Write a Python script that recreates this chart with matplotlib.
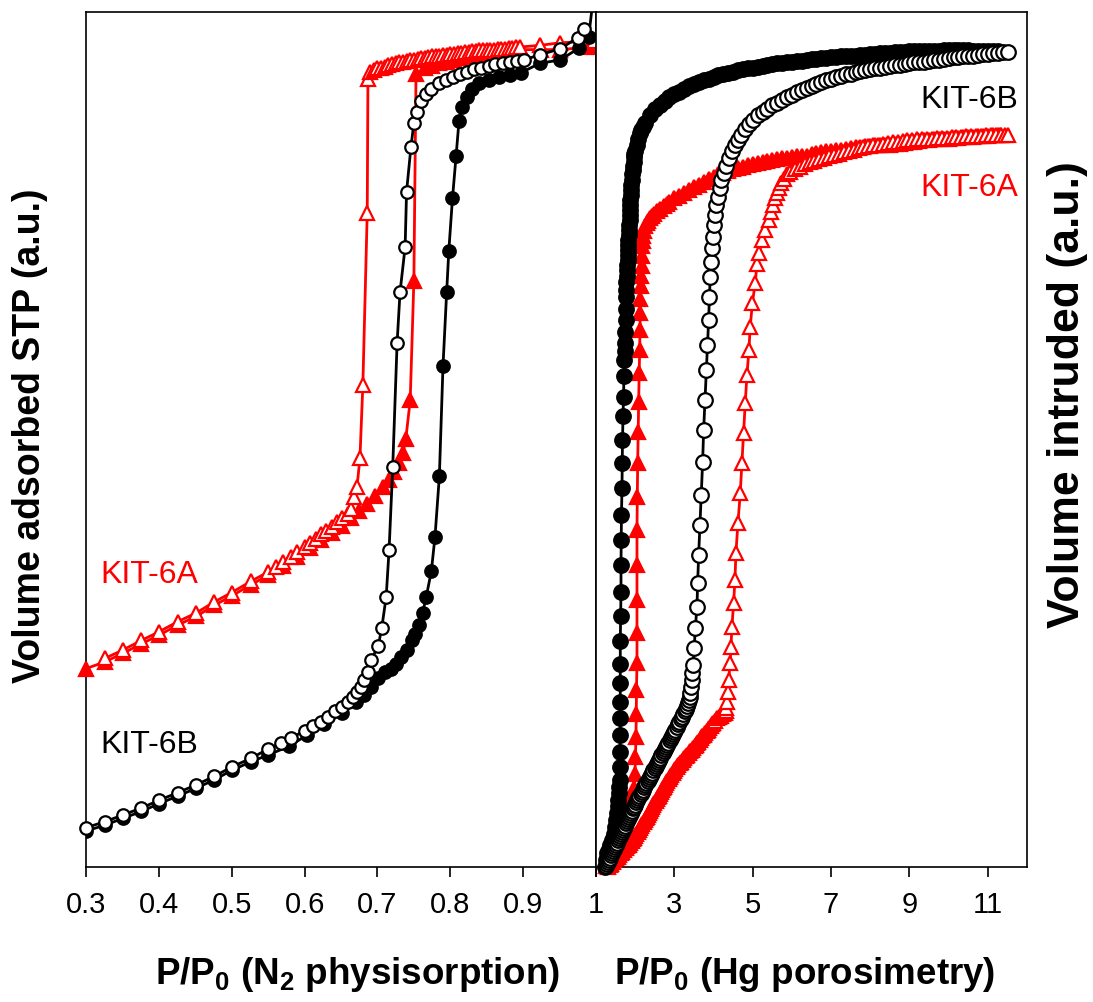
import matplotlib
matplotlib.use('Agg')
import matplotlib.pyplot as plt

plt.rcParams['font.family'] = ['Liberation Sans', 'DejaVu Sans']
plt.rcParams['mathtext.fontset'] = 'custom'
plt.rcParams['mathtext.rm'] = 'Liberation Sans'
plt.rcParams['mathtext.bf'] = 'Liberation Sans:bold'

# ---- N2 physisorption (left panel) ----
# KIT-6B adsorption (filled circles)
b_ads_p = [0.300, 0.326, 0.351, 0.376, 0.400, 0.426, 0.451, 0.476, 0.500, 0.526,
           0.550, 0.578, 0.603, 0.627, 0.651, 0.671, 0.681, 0.691, 0.701, 0.710,
           0.718, 0.725, 0.732, 0.740, 0.747, 0.752, 0.757, 0.762, 0.767, 0.774,
           0.779, 0.785, 0.790, 0.795, 0.798, 0.803, 0.808, 0.812, 0.816, 0.823,
           0.830, 0.840, 0.853, 0.867, 0.882, 0.897, 0.923, 0.951, 0.977, 0.990,
           0.998]
b_ads_v = [4.2, 4.9, 5.7, 6.5, 7.4, 8.3, 9.2, 10.2, 11.3, 12.3,
           13.1, 14.1, 15.4, 16.7, 18.0, 19.3, 20.1, 21.1, 22.1, 22.8,
           23.2, 23.8, 24.6, 25.4, 26.5, 27.3, 28.3, 29.7, 31.6, 34.6,
           38.6, 45.7, 58.6, 67.2, 72.1, 78.2, 83.2, 87.3, 88.9, 90.1,
           91.0, 91.7, 92.0, 92.4, 92.6, 92.9, 94.0, 94.4, 95.8, 97.1,
           103.0]
# KIT-6B desorption (open circles)
b_des_p = [0.300, 0.326, 0.351, 0.376, 0.400, 0.426, 0.451, 0.476, 0.500, 0.526,
           0.550, 0.568, 0.581, 0.600, 0.612, 0.622, 0.632, 0.642, 0.651, 0.659,
           0.666, 0.672, 0.677, 0.682, 0.687, 0.691, 0.701, 0.706, 0.712, 0.716,
           0.721, 0.727, 0.731, 0.738, 0.740, 0.746, 0.750, 0.754, 0.760, 0.767,
           0.774, 0.784, 0.794, 0.804, 0.813, 0.823, 0.833, 0.842, 0.853, 0.862,
           0.872, 0.882, 0.892, 0.901, 0.923, 0.951, 0.975, 0.984]
b_des_v = [4.6, 5.3, 6.1, 6.9, 7.8, 8.7, 9.6, 10.6, 11.7, 12.7,
           13.8, 14.5, 15.1, 15.9, 16.5, 17.0, 17.6, 18.2, 18.7, 19.3,
           19.9, 20.5, 21.1, 21.9, 22.8, 24.2, 25.8, 28.0, 31.6, 37.1,
           46.8, 61.3, 67.2, 72.5, 79.0, 84.2, 87.0, 88.3, 89.6, 90.4,
           91.0, 91.7, 92.0, 92.4, 92.7, 93.0, 93.3, 93.4, 93.7, 93.9,
           94.0, 94.2, 94.3, 94.4, 95.0, 95.7, 97.0, 98.0]
# KIT-6A adsorption (filled triangles)
a_ads_p = [0.300, 0.326, 0.351, 0.376, 0.400, 0.426, 0.451, 0.476, 0.500, 0.526,
           0.550, 0.571, 0.590, 0.607, 0.622, 0.637, 0.651, 0.664, 0.675, 0.686,
           0.697, 0.707, 0.716, 0.723, 0.729, 0.735, 0.739, 0.745, 0.750, 0.753,
           0.765, 0.775, 0.785, 0.795, 0.805, 0.815, 0.825, 0.835, 0.845, 0.855,
           0.865, 0.875, 0.885, 0.895, 0.925, 0.951, 0.990]
a_ads_v = [23.2, 24.0, 25.0, 26.1, 27.1, 28.3, 29.3, 30.6, 31.7, 33.0,
           34.1, 35.2, 36.3, 37.3, 38.2, 39.1, 39.9, 40.8, 41.6, 42.4,
           43.4, 44.4, 45.3, 46.2, 47.3, 48.4, 50.1, 54.6, 68.5, 92.8,
           93.4, 93.7, 94.0, 94.2, 94.4, 94.6, 94.8, 94.9, 95.0, 95.2,
           95.3, 95.4, 95.5, 95.6, 95.6, 95.6, 95.9]
# KIT-6A desorption (open triangles)
a_des_p = [0.326, 0.351, 0.376, 0.400, 0.426, 0.451, 0.476, 0.500, 0.526, 0.550,
           0.561, 0.571, 0.581, 0.590, 0.600, 0.607, 0.615, 0.622, 0.629, 0.637,
           0.644, 0.651, 0.659, 0.664, 0.668, 0.672, 0.676, 0.680, 0.686, 0.687,
           0.690, 0.695, 0.700, 0.705, 0.710, 0.715, 0.720, 0.725, 0.730, 0.735,
           0.740, 0.745, 0.750, 0.755, 0.760, 0.765, 0.770, 0.775, 0.780, 0.785,
           0.790, 0.795, 0.800, 0.805, 0.810, 0.815, 0.820, 0.825, 0.830, 0.835,
           0.840, 0.845, 0.850, 0.855, 0.860, 0.865, 0.870, 0.875, 0.880, 0.885,
           0.890, 0.895, 0.923, 0.951, 0.997]
a_des_v = [24.4, 25.4, 26.5, 27.5, 28.7, 29.7, 31.0, 32.1, 33.4, 34.5,
           35.1, 35.7, 36.3, 36.9, 37.4, 37.9, 38.4, 38.9, 39.3, 39.8,
           40.3, 40.8, 41.3, 41.9, 43.3, 44.5, 47.8, 56.4, 76.5, 92.2,
           93.0, 93.2, 93.4, 93.5, 93.6, 93.8, 93.9, 94.0, 94.1, 94.2,
           94.3, 94.4, 94.4, 94.5, 94.6, 94.6, 94.7, 94.8, 94.8, 94.9,
           95.0, 95.0, 95.1, 95.1, 95.2, 95.2, 95.3, 95.3, 95.4, 95.4,
           95.5, 95.5, 95.5, 95.6, 95.6, 95.7, 95.7, 95.7, 95.8, 95.8,
           95.9, 95.9, 96.1, 96.4, 96.6]

# ---- Hg porosimetry (right panel), (x, volume) pairs ----
# KIT-6B filled circles
hg_b_filled = [
    (1.237, 0.0), (1.259, 0.8), (1.281, 1.6), (1.320, 2.1), (1.357, 2.6),
    (1.405, 3.2), (1.452, 3.9), (1.480, 4.7), (1.510, 5.5), (1.536, 6.3),
    (1.561, 7.1), (1.570, 7.8), (1.579, 8.6), (1.590, 9.4), (1.600, 10.2),
    (1.600, 11.7), (1.612, 13.5), (1.620, 15.4), (1.620, 17.4), (1.620, 19.3),
    (1.620, 21.5), (1.620, 23.8), (1.620, 26.4), (1.630, 29.3), (1.638, 32.2),
    (1.638, 35.3), (1.645, 38.3), (1.650, 41.2), (1.663, 44.3), (1.670, 47.2),
    (1.676, 49.9), (1.689, 52.7), (1.702, 55.0), (1.714, 57.4), (1.727, 59.3),
    (1.733, 60.3), (1.740, 61.3), (1.746, 62.6), (1.753, 64.0), (1.759, 65.3),
    (1.765, 66.7), (1.771, 67.5), (1.778, 68.4), (1.784, 69.1), (1.791, 69.8),
    (1.797, 70.4), (1.804, 71.0), (1.810, 71.6), (1.816, 72.2), (1.822, 72.8),
    (1.829, 73.3), (1.835, 73.9), (1.842, 74.5), (1.848, 75.1), (1.855, 75.7),
    (1.861, 76.3), (1.867, 76.8), (1.874, 77.4), (1.880, 78.0), (1.887, 78.6),
    (1.893, 79.2), (1.902, 79.8), (1.910, 80.4), (1.922, 81.0), (1.935, 81.5),
    (1.948, 82.0), (1.960, 82.5), (1.970, 83.0), (1.982, 83.4), (2.000, 83.8),
    (2.040, 84.4), (2.080, 85.1), (2.125, 85.8), (2.160, 86.2), (2.200, 86.6),
    (2.250, 87.0), (2.375, 88.0), (2.500, 88.6), (2.625, 89.1), (2.750, 89.6),
    (2.875, 90.0), (3.000, 90.4), (3.125, 90.7), (3.250, 91.0), (3.375, 91.3),
    (3.500, 91.6), (3.625, 91.8), (3.750, 92.0), (3.875, 92.2), (4.000, 92.4),
    (4.125, 92.6), (4.250, 92.8), (4.375, 92.9), (4.500, 93.0), (4.625, 93.2),
    (4.750, 93.3), (4.875, 93.4), (5.000, 93.5), (5.125, 93.6), (5.250, 93.7),
    (5.375, 93.8), (5.500, 93.9), (5.625, 94.0), (5.750, 94.0), (5.875, 94.1),
    (6.000, 94.2), (6.125, 94.3), (6.250, 94.3), (6.375, 94.4), (6.500, 94.5),
    (6.625, 94.5), (6.750, 94.6), (6.875, 94.6), (7.000, 94.7), (7.125, 94.7),
    (7.250, 94.8), (7.375, 94.8), (7.500, 94.9), (7.625, 94.9), (7.750, 95.0),
    (7.875, 95.0), (8.000, 95.1), (8.125, 95.1), (8.250, 95.2), (8.375, 95.2),
    (8.500, 95.2), (8.625, 95.3), (8.750, 95.3), (8.875, 95.3), (9.000, 95.4),
    (9.125, 95.4), (9.250, 95.4), (9.375, 95.4), (9.500, 95.4), (9.625, 95.4),
    (9.750, 95.4), (9.875, 95.5), (10.000, 95.5), (10.125, 95.5), (10.250, 95.5),
    (10.375, 95.5), (10.500, 95.5), (10.625, 95.4), (10.750, 95.4), (10.875, 95.4),
    (11.000, 95.4), (11.125, 95.4), (11.250, 95.4),
]
# KIT-6B open circles
hg_b_open = [
    (1.255, 0.1), (1.280, 0.35), (1.306, 0.6), (1.331, 0.85), (1.357, 1.1),
    (1.382, 1.35), (1.408, 1.6), (1.433, 1.85), (1.458, 2.1), (1.484, 2.35),
    (1.509, 2.6), (1.535, 2.85), (1.560, 3.1), (1.586, 3.35), (1.611, 3.6),
    (1.637, 3.85), (1.662, 4.1), (1.688, 4.35), (1.713, 4.6), (1.738, 4.85),
    (1.763, 5.1), (1.789, 5.35), (1.814, 5.6), (1.840, 5.85), (1.865, 6.1),
    (1.891, 6.35), (1.916, 6.6), (1.941, 6.85), (1.962, 7.05), (1.992, 7.3),
    (2.021, 7.55), (2.051, 7.8), (2.080, 8.05), (2.110, 8.3), (2.139, 8.55),
    (2.169, 8.8), (2.198, 9.05), (2.228, 9.3), (2.257, 9.55), (2.287, 9.8),
    (2.316, 10.05), (2.346, 10.3), (2.375, 10.55), (2.405, 10.8), (2.434, 11.05),
    (2.464, 11.3), (2.494, 11.55), (2.523, 11.8), (2.553, 12.05), (2.582, 12.3),
    (2.612, 12.55), (2.641, 12.8), (2.671, 13.05), (2.700, 13.3), (2.730, 13.55),
    (2.759, 13.8), (2.789, 14.05), (2.818, 14.3), (2.848, 14.55), (2.877, 14.8),
    (2.907, 15.05), (2.936, 15.3), (2.966, 15.55), (2.995, 15.8), (3.025, 16.05),
    (3.066, 16.4), (3.098, 16.7), (3.130, 17.0), (3.162, 17.3), (3.194, 17.6),
    (3.227, 17.9), (3.260, 18.2), (3.290, 18.5), (3.321, 18.8), (3.346, 19.15),
    (3.370, 19.5), (3.390, 19.9), (3.406, 20.3), (3.430, 21.1), (3.449, 21.9),
    (3.462, 22.7), (3.474, 23.6), (3.508, 25.6), (3.533, 27.9), (3.577, 30.4),
    (3.594, 33.2), (3.620, 36.5), (3.653, 40.0), (3.686, 43.5), (3.722, 47.4),
    (3.747, 51.1), (3.781, 54.6), (3.814, 58.1), (3.844, 61.1), (3.875, 64.0),
    (3.895, 66.7), (3.916, 69.0), (3.941, 70.8), (3.959, 72.4), (3.985, 73.7),
    (4.003, 75.1), (4.028, 76.3), (4.061, 77.4), (4.105, 78.4), (4.156, 79.4),
    (4.196, 80.4), (4.258, 81.2), (4.309, 82.0), (4.385, 82.9), (4.469, 83.7),
    (4.538, 84.4), (4.615, 85.0), (4.699, 85.6), (4.801, 86.3), (4.903, 86.9),
    (5.000, 87.4), (5.125, 87.9), (5.250, 88.3), (5.375, 88.7), (5.500, 89.1),
    (5.625, 89.4), (5.750, 89.7), (5.875, 90.0), (6.000, 90.3), (6.125, 90.6),
    (6.250, 90.9), (6.375, 91.1), (6.500, 91.4), (6.625, 91.6), (6.750, 91.8),
    (6.875, 92.0), (7.000, 92.2), (7.125, 92.4), (7.250, 92.5), (7.375, 92.7),
    (7.500, 92.8), (7.625, 93.0), (7.750, 93.1), (7.875, 93.2), (8.000, 93.3),
    (8.125, 93.4), (8.250, 93.5), (8.375, 93.6), (8.500, 93.7), (8.625, 93.8),
    (8.750, 93.8), (8.875, 93.9), (9.000, 94.0), (9.125, 94.1), (9.250, 94.1),
    (9.375, 94.2), (9.500, 94.3), (9.625, 94.4), (9.750, 94.4), (9.875, 94.5),
    (10.000, 94.6), (10.125, 94.7), (10.250, 94.7), (10.375, 94.8), (10.500, 94.9),
    (10.625, 94.9), (10.750, 95.0), (10.875, 95.1), (11.000, 95.1), (11.125, 95.2),
    (11.250, 95.2), (11.375, 95.3), (11.510, 95.3),
]
# KIT-6A filled triangles
hg_a_filled = [
    (1.255, 0.1), (1.383, 1.4), (1.510, 2.8), (1.638, 4.3), (1.747, 6.1),
    (1.875, 7.8), (1.962, 9.2), (1.995, 10.9), (2.008, 12.9), (2.020, 15.2),
    (2.028, 17.9), (2.033, 20.7), (2.046, 23.9), (2.046, 27.4), (2.046, 31.2),
    (2.046, 35.3), (2.046, 39.4), (2.054, 43.3), (2.064, 47.3), (2.077, 50.9),
    (2.089, 54.4), (2.102, 57.8), (2.115, 60.5), (2.122, 62.8), (2.130, 64.8),
    (2.135, 66.4), (2.148, 68.0), (2.156, 69.1), (2.166, 70.3), (2.173, 71.5),
    (2.186, 72.6), (2.200, 73.2), (2.212, 73.8), (2.235, 74.4), (2.258, 75.0),
    (2.290, 75.3), (2.327, 75.6), (2.380, 75.9), (2.429, 76.1), (2.490, 76.4),
    (2.556, 76.7), (2.640, 77.0), (2.727, 77.3), (2.800, 77.6), (2.875, 77.8),
    (3.000, 78.2), (3.125, 78.5), (3.250, 78.8), (3.375, 79.2), (3.500, 79.5),
    (3.625, 79.8), (3.750, 80.1), (3.875, 80.5), (4.000, 80.7), (4.125, 81.0),
    (4.250, 81.2), (4.375, 81.4), (4.500, 81.6), (4.625, 81.8), (4.750, 81.9),
    (4.875, 82.1), (5.000, 82.2), (5.125, 82.3), (5.250, 82.4), (5.375, 82.6),
    (5.500, 82.7), (5.625, 82.8), (5.750, 82.9), (5.875, 82.9), (6.000, 83.0),
    (6.125, 83.1), (6.250, 83.1), (6.375, 83.2), (6.500, 83.4), (6.625, 83.5),
    (6.750, 83.6), (6.875, 83.7), (7.000, 83.8), (7.125, 83.9), (7.250, 83.9),
    (7.375, 84.0), (7.500, 84.1), (7.625, 84.2), (7.750, 84.2), (7.875, 84.3),
    (8.000, 84.3), (8.125, 84.4), (8.250, 84.4), (8.375, 84.5), (8.500, 84.5),
    (8.625, 84.6), (8.750, 84.6), (8.875, 84.7), (9.000, 84.8), (9.125, 84.8),
    (9.250, 84.9), (9.375, 85.0), (9.500, 85.0), (9.625, 85.1), (9.750, 85.1),
    (9.875, 85.2), (10.000, 85.2), (10.125, 85.3), (10.250, 85.3), (10.375, 85.4),
    (10.500, 85.4), (10.625, 85.4), (10.750, 85.5), (10.875, 85.5), (11.000, 85.5),
    (11.125, 85.6), (11.250, 85.6), (11.310, 85.6),
]
# KIT-6A open triangles
hg_a_open = [
    (1.306, 0.0), (1.347, 0.2), (1.388, 0.4), (1.429, 0.6), (1.470, 0.8),
    (1.511, 1.0), (1.552, 1.2), (1.594, 1.4), (1.635, 1.6), (1.676, 1.8),
    (1.717, 2.0), (1.758, 2.2), (1.799, 2.4), (1.840, 2.6), (1.875, 2.77),
    (1.907, 3.0), (1.937, 3.22), (1.968, 3.45), (1.999, 3.67), (2.030, 3.9),
    (2.060, 4.12), (2.091, 4.35), (2.122, 4.57), (2.153, 4.8), (2.183, 5.02),
    (2.215, 5.25), (2.245, 5.47), (2.273, 5.68), (2.301, 5.88), (2.328, 6.1),
    (2.356, 6.33), (2.382, 6.55), (2.410, 6.78), (2.437, 7.0), (2.465, 7.23),
    (2.492, 7.45), (2.520, 7.68), (2.546, 7.9), (2.574, 8.13), (2.601, 8.35),
    (2.629, 8.58), (2.655, 8.8), (2.683, 9.03), (2.704, 9.2), (2.727, 9.39),
    (2.757, 9.6), (2.792, 9.84), (2.824, 10.06), (2.857, 10.29), (2.887, 10.5),
    (2.921, 10.74), (2.955, 10.96), (2.988, 11.19), (3.027, 11.45), (3.066, 11.73),
    (3.103, 11.93), (3.141, 12.13), (3.178, 12.33), (3.215, 12.53), (3.253, 12.73),
    (3.290, 12.93), (3.327, 13.13), (3.365, 13.33), (3.402, 13.53), (3.440, 13.73),
    (3.477, 13.93), (3.514, 14.13), (3.545, 14.3), (3.577, 14.47), (3.612, 14.67),
    (3.647, 14.87), (3.682, 15.07), (3.717, 15.27), (3.752, 15.47), (3.787, 15.67),
    (3.822, 15.87), (3.857, 16.07), (3.892, 16.27), (3.927, 16.47), (3.962, 16.67),
    (3.996, 16.87), (4.042, 17.13), (4.087, 17.39), (4.140, 17.55), (4.190, 17.7),
    (4.245, 17.85), (4.298, 17.98), (4.320, 18.3), (4.330, 18.6), (4.342, 19.3),
    (4.360, 20.5), (4.385, 21.9), (4.426, 23.9), (4.444, 25.7), (4.469, 28.1),
    (4.513, 30.9), (4.546, 33.6), (4.571, 36.7), (4.622, 40.2), (4.681, 43.7),
    (4.724, 47.3), (4.768, 50.8), (4.809, 54.3), (4.852, 57.5), (4.903, 60.5),
    (4.936, 63.2), (4.992, 66.0), (5.064, 68.3), (5.107, 70.5), (5.166, 71.8),
    (5.235, 73.3), (5.319, 74.5), (5.406, 75.7), (5.464, 76.6), (5.515, 77.4),
    (5.574, 78.2), (5.617, 78.8), (5.676, 79.4), (5.727, 80.0), (5.788, 80.5),
    (5.872, 81.0), (5.957, 81.3), (6.080, 81.6), (6.200, 81.9), (6.325, 82.2),
    (6.450, 82.4), (6.575, 82.6), (6.700, 82.8), (6.825, 82.9), (6.950, 83.1),
    (7.075, 83.3), (7.200, 83.4), (7.325, 83.6), (7.450, 83.8), (7.575, 83.9),
    (7.700, 84.1), (7.825, 84.2), (7.950, 84.3), (8.075, 84.4), (8.200, 84.5),
    (8.325, 84.6), (8.450, 84.7), (8.575, 84.8), (8.700, 84.8), (8.825, 84.9),
    (8.950, 85.0), (9.075, 85.0), (9.200, 85.1), (9.325, 85.1), (9.450, 85.2),
    (9.575, 85.2), (9.700, 85.3), (9.825, 85.3), (9.950, 85.3), (10.075, 85.4),
    (10.200, 85.4), (10.325, 85.4), (10.450, 85.5), (10.575, 85.5), (10.700, 85.5),
    (10.825, 85.5), (10.950, 85.6), (11.075, 85.6), (11.200, 85.6), (11.325, 85.6),
    (11.450, 85.6), (11.510, 85.6),
]

left_ticks = [0.3, 0.4, 0.5, 0.6, 0.7, 0.8, 0.9, 1.0]
left_labels = ['0.3', '0.4', '0.5', '0.6', '0.7', '0.8', '0.9', '']
right_ticks = [1, 3, 5, 7, 9, 11]
right_labels = ['1', '3', '5', '7', '9', '11']

RED = '#ff0000'

fig = plt.figure(figsize=(10.93, 10.02), dpi=100)
ax1 = fig.add_axes([86 / 1093, 135 / 1002, 510 / 1093, 855 / 1002])
ax2 = fig.add_axes([596 / 1093, 135 / 1002, 431 / 1093, 855 / 1002])


def series(ax, x, y, color, marker, filled, ms, z, clip=False):
    ax.plot(x, y, color=color, lw=2.0, marker=marker, ms=ms,
            mfc=color if filled else 'white', mec=color, mew=1.6,
            zorder=z, clip_on=clip)


series(ax1, a_ads_p, a_ads_v, RED, '^', True, 9.5, 3)
series(ax1, a_des_p, a_des_v, RED, '^', False, 9.5, 4)
series(ax1, b_ads_p, b_ads_v, 'black', 'o', True, 9, 5, clip=True)
series(ax1, b_des_p, b_des_v, 'black', 'o', False, 9, 6)

for data, color, marker, filled, z in [(hg_a_filled, RED, '^', True, 3),
                                       (hg_a_open, RED, '^', False, 4),
                                       (hg_b_filled, 'black', 'o', True, 5),
                                       (hg_b_open, 'black', 'o', False, 6)]:
    xs = [d[0] for d in data]
    vs = [d[1] for d in data]
    series(ax2, xs, vs, color, marker, filled, 10.5, z)

ax1.set_xlim(0.3, 1.0)
ax2.set_xlim(1, 12)
for ax, ticks, labels in [(ax1, left_ticks, left_labels),
                          (ax2, right_ticks, right_labels)]:
    ax.set_ylim(0, 100)
    ax.set_yticks([])
    ax.set_xticks(ticks)
    ax.set_xticklabels(labels, fontsize=21)
    ax.tick_params(axis='x', direction='out', length=7, width=1.2, pad=10)
    for sp in ax.spines.values():
        sp.set_linewidth(1.2)

ax1.text(0.028, 0.3415, 'KIT-6A', color=RED, fontsize=23, va='center',
         transform=ax1.transAxes)
ax1.text(0.028, 0.1427, 'KIT-6B', color='black', fontsize=23, va='center',
         transform=ax1.transAxes)
ax2.text(0.979, 0.897, 'KIT-6B', color='black', fontsize=23, va='center',
         ha='right', transform=ax2.transAxes)
ax2.text(0.979, 0.794, 'KIT-6A', color=RED, fontsize=23, va='center',
         ha='right', transform=ax2.transAxes)

fig.text(30 / 1093, 1 - 436 / 1002, 'Volume adsorbed STP (a.u.)', rotation=90,
         fontsize=27, fontweight='bold', ha='center', va='center')
fig.text(1068 / 1093, 1 - 395 / 1002, 'Volume intruded (a.u.)', rotation=90,
         fontsize=32, fontweight='bold', ha='center', va='center')
fig.text(358 / 1093, 1 - 975 / 1002, r'P/P$_\mathbf{0}$ (N$_\mathbf{2}$ physisorption)',
         fontsize=26.5, fontweight='bold', ha='center', va='center')
fig.text(805 / 1093, 1 - 975 / 1002, r'P/P$_\mathbf{0}$ (Hg porosimetry)',
         fontsize=26.5, fontweight='bold', ha='center', va='center')

fig.savefig('out.png', dpi=100)
